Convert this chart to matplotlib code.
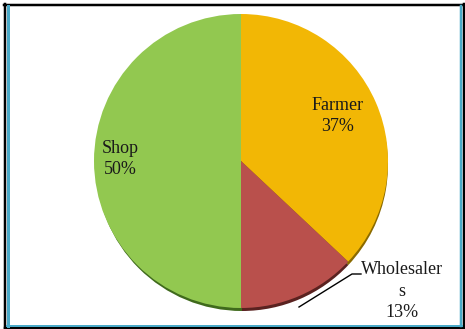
import matplotlib
matplotlib.use("Agg")
import matplotlib.pyplot as plt
from matplotlib.lines import Line2D

# Distribution channel shares
labels = ["Farmer", "Wholesaler\ns", "Shop"]
shares = [37, 13, 50]
colors = ["#F2B705", "#B9504C", "#92C850"]
shadow_colors = ["#8a6a00", "#5a2220", "#3f6a1c"]

W, H = 465, 329
fig = plt.figure(figsize=(W / 100, H / 100), dpi=100)
ax = fig.add_axes([0, 0, 1, 1])

cx, cy, r = 241, H - 161, 147

# depth edge under the pie
ax.pie(shares, colors=shadow_colors, startangle=90, counterclock=False,
       center=(cx + 1, cy - 4), radius=r - 1, frame=True,
       wedgeprops=dict(linewidth=0, zorder=1))
ax.pie(shares, colors=colors, startangle=90, counterclock=False,
       center=(cx, cy), radius=r, frame=True,
       wedgeprops=dict(linewidth=0, zorder=2))
ax.set_xlim(0, W)
ax.set_ylim(0, H)
ax.axis("off")

font = dict(family="Liberation Serif", fontsize=13, color="#1a1a1a",
            ha="center", va="center", zorder=5, linespacing=1.32)
ax.text(338, H - 116, f"{labels[0]}\n{shares[0]}%", **font)
ax.text(120, H - 159, f"{labels[2]}\n{shares[2]}%", **font)
ax.text(402, H - 291, f"{labels[1]}\n{shares[1]}%", **font)

# leader line for the small slice
ax.plot([361, 352, 299], [H - 274, H - 274, H - 307], color="black", lw=1, zorder=5)

# picture frame
blue = "#4AAAC8"
frame = [
    ([4, W], [H - 4.5, H - 4.5], "black", 2.5),
    ([5, 5], [0, H - 4], "black", 2.5),
    ([5, W], [H - 328, H - 328], "black", 2.5),
    ([463.5, 463.5], [0, H - 4], "black", 2.5),
    ([7.5, 7.5], [H - 326, H - 6], blue, 3),
    ([7, 462], [H - 325.5, H - 325.5], blue, 2),
    ([460.5, 460.5], [H - 326, H - 6], blue, 2.5),
]
for xs, ys, c, lw in frame:
    ax.add_line(Line2D(xs, ys, color=c, lw=lw * 0.72, zorder=6))

fig.savefig("out.png", dpi=100, facecolor="white")
